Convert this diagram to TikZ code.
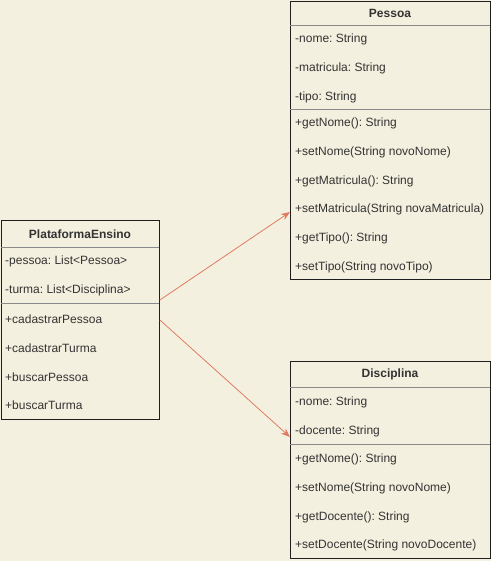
\documentclass[tikz,border=0pt]{standalone}
\usepackage{fontspec}
\setmainfont{Liberation Sans}
\usetikzlibrary{arrows.meta}
\frenchspacing
\definecolor{bg}{HTML}{F4F0DF}
\definecolor{txt}{HTML}{333333}
\definecolor{edge}{HTML}{1E1E1E}
\definecolor{sep}{HTML}{8A8A8A}
\definecolor{arr}{HTML}{E07B61}
\tikzset{
  classbox/.style={draw=edge, line width=0.9pt, fill=bg, rectangle, anchor=north west, inner sep=0pt},
  sepline/.style={draw=sep, line width=0.8pt},
  row/.style={anchor=west, inner sep=0pt, text=txt, font=\fontsize{12}{14}\selectfont\frenchspacing},
  head/.style={anchor=center, inner sep=0pt, text=txt, font=\fontsize{12}{14}\selectfont\bfseries},
  assoc/.style={draw=arr, line width=0.8pt, -{Stealth[length=9pt,width=7pt]}}
}
\begin{document}
\begin{tikzpicture}[x=1pt,y=-1pt]
\useasboundingbox[fill=bg] (0,0) rectangle (491,561);
% PlataformaEnsino
\node[classbox, minimum width=158pt, minimum height=199pt] (plat) at (1,220) {};
\draw[sepline] (1,247.5) -- (159,247.5);
\draw[sepline] (1,303) -- (159,303);
\node[head] (platT) at (80,234) {PlataformaEnsino};
\node[row] (p1) at (5,261.5) {-pessoa: List<Pessoa>};
\node[row] (p2) at (5,290.5) {-turma: List<Disciplina>};
\node[row] (p3) at (5,319) {+cadastrarPessoa};
\node[row] (p4) at (5,348) {+cadastrarTurma};
\node[row] (p5) at (5,377) {+buscarPessoa};
\node[row] (p6) at (5,405.5) {+buscarTurma};
% Pessoa
\node[classbox, minimum width=200pt, minimum height=278pt] (pes) at (290,1) {};
\draw[sepline] (290,25.5) -- (490,25.5);
\draw[sepline] (290,109) -- (490,109);
\node[head] (pesT) at (390,13.5) {Pessoa};
\node[row] (a1) at (295,39) {-nome: String};
\node[row] (a2) at (295,68) {-matricula: String};
\node[row] (a3) at (295,97) {-tipo: String};
\node[row] (a4) at (295,123) {+getNome(): String};
\node[row] (a5) at (295,152) {+setNome(String novoNome)};
\node[row] (a6) at (295,181) {+getMatricula(): String};
\node[row] (a7) at (295,209.5) {+setMatricula(String novaMatricula)};
\node[row] (a8) at (295,238.5) {+getTipo(): String};
\node[row] (a9) at (295,267) {+setTipo(String novoTipo)};
% Disciplina
\node[classbox, minimum width=200pt, minimum height=197pt] (dis) at (290,361) {};
\draw[sepline] (290,387.5) -- (490,387.5);
\draw[sepline] (290,444.5) -- (490,444.5);
\node[head] (disT) at (390,374.5) {Disciplina};
\node[row] (d1) at (295,402) {-nome: String};
\node[row] (d2) at (295,431) {-docente: String};
\node[row] (d3) at (295,459) {+getNome(): String};
\node[row] (d4) at (295,488) {+setNome(String novoNome)};
\node[row] (d5) at (295,517) {+getDocente(): String};
\node[row] (d6) at (295,545.5) {+setDocente(String novoDocente)};
% associations
\draw[assoc] ([yshift=-80pt]plat.north east) -- ([yshift=-211pt]pes.north west);
\draw[assoc] ([yshift=-100pt]plat.north east) -- ([yshift=-76pt]dis.north west);
\end{tikzpicture}
\end{document}
